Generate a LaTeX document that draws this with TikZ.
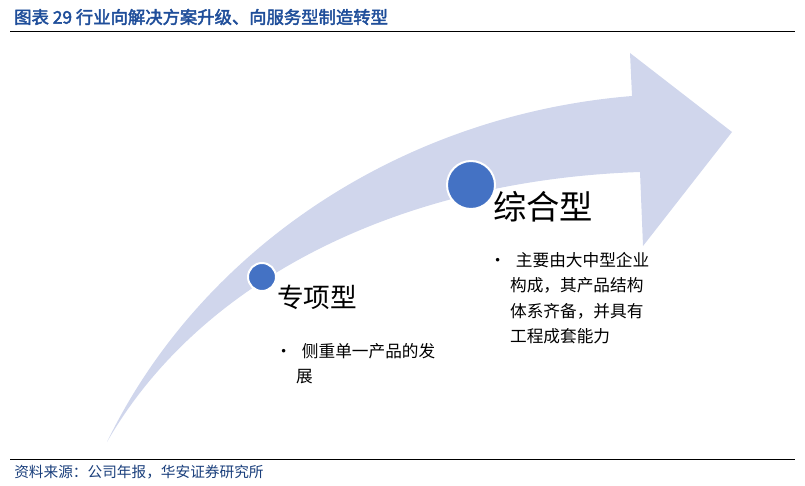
\documentclass[tikz,border=0pt]{standalone}
\usepackage{fontspec}
\setmainfont{Noto Sans CJK SC}
\newfontfamily\cjkb[FakeBold=2.5]{Noto Sans CJK SC}
\definecolor{bandblue}{HTML}{D0D6EC}
\definecolor{dotblue}{HTML}{4472C4}
\definecolor{titleblue}{HTML}{1F4E9A}
\tikzset{
  dot/.style={circle, fill=dotblue, draw=white, line width=1.5pt, inner sep=0pt},
  stage/.style={anchor=west, inner sep=0pt, font=\fontsize{20}{24}\selectfont},
  point/.style={anchor=north west, align=left, inner sep=0pt, font=\fontsize{12.5}{19}\selectfont}
}
\begin{document}
\begin{tikzpicture}[x=0.75pt, y=-0.75pt]
\useasboundingbox (0,0) rectangle (805,485);
% Title and footer
\node[anchor=west, inner sep=0pt, text=titleblue, font=\cjkb\fontsize{13}{15}\selectfont] (title) at (14,17) {图表 29 行业向解决方案升级、向服务型制造转型};
\draw[line width=0.6pt] (10,31) -- (795,31);
\draw[line width=0.6pt] (10,459) -- (795,459);
\node[anchor=west, inner sep=0pt, text=titleblue!80!black, font=\fontsize{11}{13}\selectfont] (source) at (14,472) {资料来源：公司年报，华安证券研究所};
% Arrow
\fill[bandblue] (107,442) .. controls (200,250) and (400,115) .. (632,96)
  -- (630,53) -- (732,132) -- (643,246) -- (640,172)
  .. controls (400,180) and (200,280) .. (107,442) -- cycle;
% Stages
\node[dot, minimum size=21pt] (d1) at (262,277) {};
\node[dot, minimum size=36pt] (d2) at (471,185) {};
\node[stage] (s1) at (277,297) {专项型};
\node[stage, font=\fontsize{25}{30}\selectfont] (s2) at (493,207) {综合型};
\node[point] (p1) at (275,343) {•\hspace{0.6em}侧重单一产品的发\\\hspace{1.25em}展};
\node[point] (p2) at (489,252) {•\hspace{0.6em}主要由大中型企业\\\hspace{1.25em}构成，其产品结构\\\hspace{1.25em}体系齐备，并具有\\\hspace{1.25em}工程成套能力};
\end{tikzpicture}
\end{document}
